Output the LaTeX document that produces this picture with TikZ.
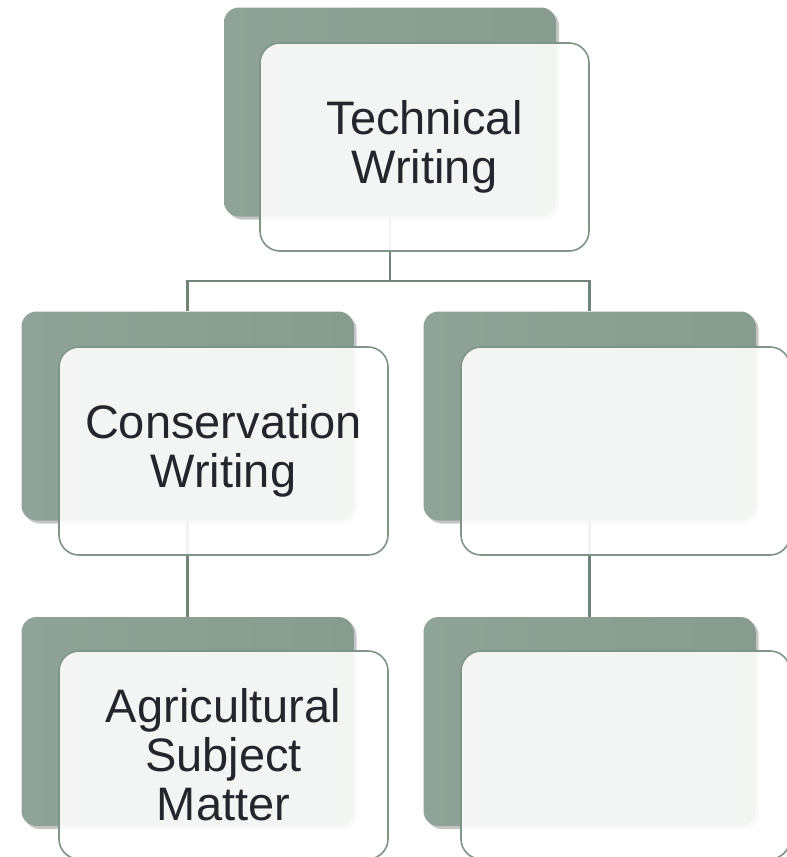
\documentclass[tikz,border=0pt]{standalone}
\usepackage{fontspec}
\setmainfont{Liberation Sans}
\usetikzlibrary{shadows}
\definecolor{darkbox}{HTML}{879B8E}
\definecolor{darkboxL}{HTML}{90A398}
\definecolor{frameline}{HTML}{7E9487}
\definecolor{linkline}{HTML}{718479}
\definecolor{txt}{HTML}{25252E}
\pgfdeclarelayer{bg}
\pgfsetlayers{bg,main}
\tikzset{
  backbox/.style={draw=none, left color=darkboxL, right color=darkbox, rounded corners=15pt,
    minimum width=332pt, minimum height=209pt, inner sep=0pt,
    drop shadow={opacity=0.45, shadow xshift=3pt, shadow yshift=-3pt}},
  frontbox/.style={draw=frameline, line width=1.6pt, fill=white, fill opacity=0.9, text opacity=1,
    rounded corners=20pt, minimum width=329pt, minimum height=208pt, inner sep=0pt,
    align=center, text=txt, font=\fontsize{47}{49}\selectfont},
  link/.style={draw=linkline, line width=2.3pt}
}
\begin{document}
\begin{tikzpicture}[x=1pt,y=1pt]
\useasboundingbox (0,0) rectangle (787,-857);
\clip (0,0) rectangle (787,-857);
% back boxes
\node[backbox] (tD) at (390,-112) {};
\node[backbox] (lD) at (187.5,-416) {};
\node[backbox] (rD) at (589.5,-416) {};
\node[backbox] (blD) at (187.5,-721.5) {};
\node[backbox] (brD) at (589.5,-721.5) {};
% front boxes
\node[frontbox] (tF) at (424.5,-147) {Technical\\Writing};
\node[frontbox] (lF) at (223.5,-451) {Conservation\\Writing};
\node[frontbox] (rF) at (625.5,-451) {};
\node[frontbox] (blF) at (223.5,-755) {Agricultural\\Subject\\Matter};
\node[frontbox] (brF) at (625.5,-755) {};
% connectors
\begin{pgfonlayer}{bg}
\coordinate (hub) at ([yshift=-64pt]tD.south);
\draw[link] (tD.south) -- (hub) -| (lD.north);
\draw[link] (hub) -| (rD.north);
\draw[link] (lD.south) -- (blD.north);
\draw[link] (rD.south) -- (brD.north);
\end{pgfonlayer}
\end{tikzpicture}
\end{document}
